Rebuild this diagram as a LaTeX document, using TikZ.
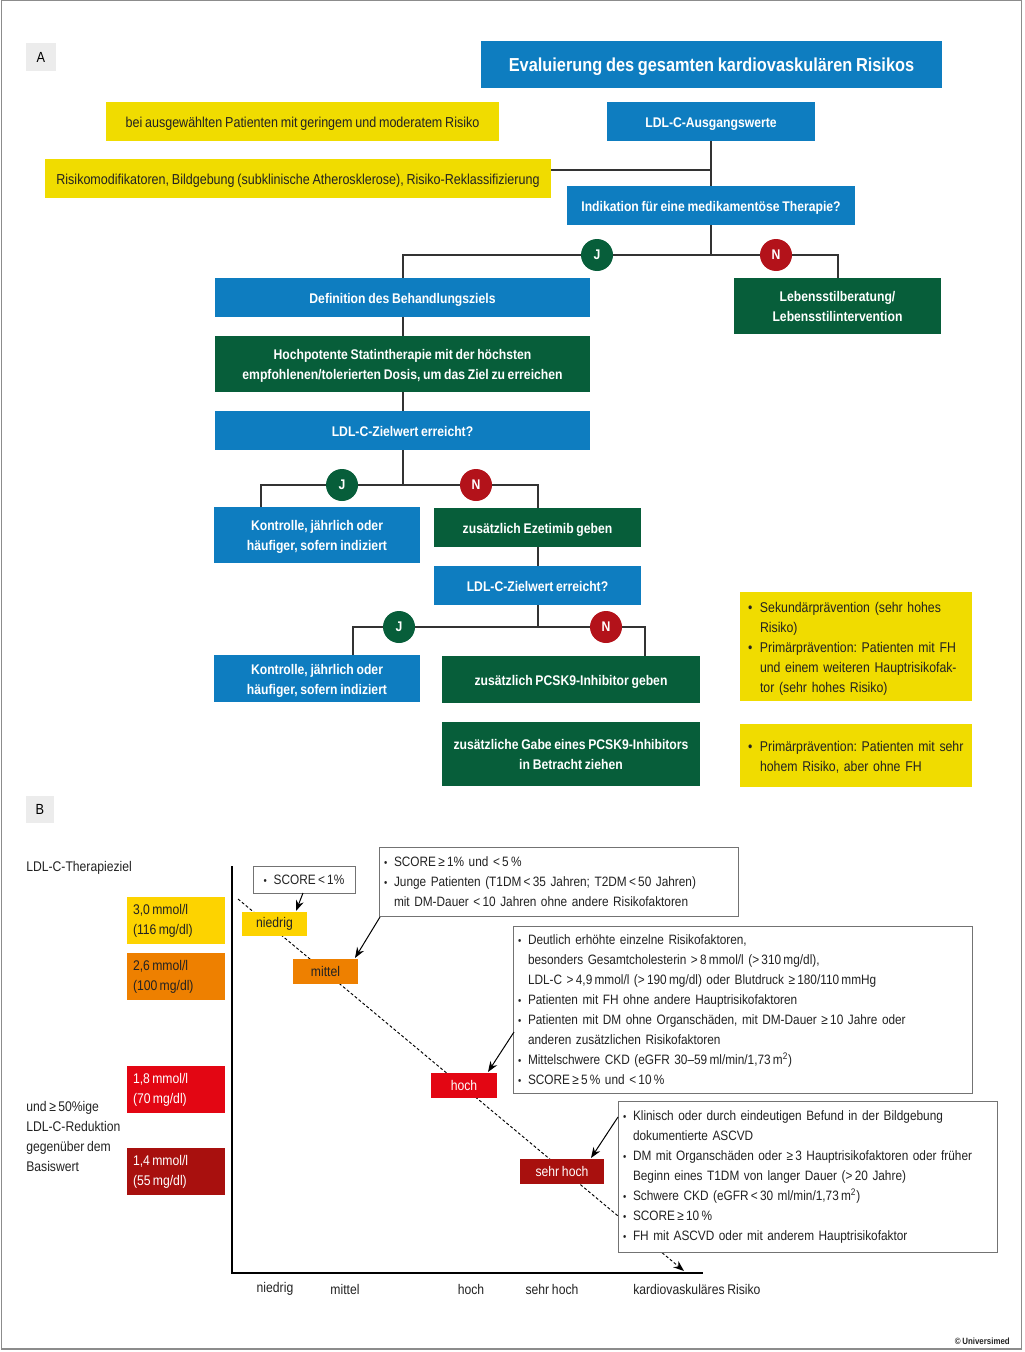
\documentclass[tikz,border=0pt]{standalone}
\usepackage{fontspec}
\setmainfont{Liberation Sans}[FakeStretch=0.87,WordSpace=0.8]
\usetikzlibrary{arrows.meta,calc}
\definecolor{cblue}{HTML}{0E7DC0}
\definecolor{cgreen}{HTML}{075E3A}
\definecolor{cred}{HTML}{B3121A}
\definecolor{cyel}{HTML}{F0DC00}
\definecolor{byel}{HTML}{FDD300}
\definecolor{borange}{HTML}{EE8000}
\definecolor{bred}{HTML}{E30613}
\definecolor{bdred}{HTML}{A8100E}
\definecolor{lgray}{HTML}{ECECEC}
\definecolor{txt}{HTML}{222222}
\newcommand{\fbx}[7]{\node[#2, minimum width={(#5-#3)*0.75pt}, minimum height={(#6-#4)*0.75pt}] (#1) at ({(#3+#5)/2},{(#4+#6)/2}) {#7};}
\newcommand{\lbx}[8]{\pgfmathsetmacro\mytw{(#5-#3-2*#7)*0.75}\node[#2, align=left, inner xsep=0pt, text width=\mytw pt, minimum width={(#5-#3)*0.75pt}, minimum height={(#6-#4)*0.75pt}] (#1) at ({(#3+#5)/2},{(#4+#6)/2}) {#8};}
\newcommand{\ybul}{\makebox[9pt][l]{•}}
\newcommand{\yind}{\hspace*{9pt}}
\newcommand{\bbul}{\makebox[7.5pt][l]{\fontsize{8}{8}\selectfont•}}
\newcommand{\bind}{\hspace*{7.5pt}}
\newcommand{\topstr}{\rule{0pt}{10.6pt}}
\newcommand{\botstr}{\rule[-2.2pt]{0pt}{0pt}}
\frenchspacing
\hfuzz=100pt
\begin{document}
\frenchspacing
\begin{tikzpicture}[x=0.75pt,y=-0.75pt,
  base/.style={inner sep=0pt, align=center},
  fl/.style={base, font=\fontsize{10.5}{15}\selectfont\bfseries, text=white},
  blu/.style={fl, fill=cblue},
  grn/.style={fl, fill=cgreen},
  yel/.style={base, fill=cyel, font=\fontsize{10.8}{15}\selectfont, text=txt},
  ylist/.style={yel, font=\fontsize{10.6}{15}\selectfont},
  conn/.style={line width=1.5pt, draw=black!80},
  circJ/.style={circle, fill=cgreen, minimum size=24pt, inner sep=0pt, text=white, font=\fontsize{10.5}{12}\selectfont\bfseries},
  circN/.style={circJ, fill=cred},
  lvl/.style={base, font=\fontsize{10.5}{15}\selectfont},
  call/.style={base, fill=white, draw=black!55, line width=0.75pt, font=\fontsize{10.2}{15}\selectfont, text=txt},
  carr/.style={-{Stealth[length=8pt,width=6pt]}, line width=0.75pt},
  dashln/.style={dash pattern=on 2.2pt off 1.6pt, line width=0.7pt, -{Stealth[length=8pt,width=6pt]}},
  lbl/.style={font=\fontsize{10.5}{15}\selectfont, inner sep=0pt, text=txt},
  tag/.style={base, fill=lgray, font=\fontsize{11}{12}\selectfont, text=black}
]
\useasboundingbox (0,0) rectangle (1024,1352);
\draw[black!45, line width=1.2pt] (1.5,0.5) rectangle (1021.5,1349);

% ===== Part A =====
\fbx{tagA}{tag}{26}{43}{56}{71}{A}
\fbx{title}{blu, font=\fontsize{14.1}{16}\selectfont\bfseries}{481}{41}{942}{88}{\rule{0pt}{13pt}Evaluierung des gesamten kardiovaskulären Risikos\rule[-3pt]{0pt}{0pt}}
\fbx{ldl}{blu}{607}{102}{815}{141}{\topstr LDL-C-Ausgangswerte\botstr}
\fbx{sel}{yel}{106}{102}{499}{141}{\topstr bei ausgewählten Patienten mit geringem und moderatem Risiko\botstr}
\fbx{risk}{yel}{45}{159}{551}{198}{\topstr Risikomodifikatoren, Bildgebung (subklinische Atherosklerose), Risiko-Reklassifizierung\botstr}
\fbx{ind}{blu}{567}{186}{855}{225}{\topstr Indikation für eine medikamentöse Therapie?\botstr}
\fbx{def}{blu}{215}{278}{590}{317}{\topstr Definition des Behandlungsziels\botstr}
\fbx{leb}{grn}{734}{278}{941}{334}{\topstr Lebensstilberatung/\\Lebensstilintervention\botstr}
\fbx{statin}{grn}{215}{336}{590}{392}{\topstr Hochpotente Statintherapie mit der höchsten\\empfohlenen/tolerierten Dosis, um das Ziel zu erreichen\botstr}
\fbx{ziel1}{blu}{215}{411}{590}{450}{\topstr LDL-C-Zielwert erreicht?\botstr}
\fbx{kon1}{blu}{214}{507}{420}{563}{\topstr Kontrolle, jährlich oder\\häufiger, sofern indiziert\botstr}
\fbx{eze}{grn}{434}{508}{641}{547}{\topstr zusätzlich Ezetimib geben\botstr}
\fbx{ziel2}{blu}{434}{566}{641}{605}{\topstr LDL-C-Zielwert erreicht?\botstr}
\fbx{kon2}{blu}{214}{655}{420}{702}{\topstr Kontrolle, jährlich oder\\häufiger, sofern indiziert\botstr}
\fbx{pcsk}{grn}{442}{656}{700}{703}{\topstr zusätzlich PCSK9-Inhibitor geben\botstr}
\fbx{gabe}{grn}{442}{722}{700}{786}{\topstr zusätzliche Gabe eines PCSK9-Inhibitors\\in Betracht ziehen\botstr}
\lbx{yl1}{ylist}{740}{592}{972}{701}{8}{\mbox{\topstr\ybul Sekundärprävention (sehr hohes}\\\yind Risiko)\\\mbox{\ybul Primärprävention: Patienten mit FH}\\\mbox{\yind und einem weiteren Hauptrisikofak-}\\\mbox{\yind tor (sehr hohes Risiko)\botstr}}
\lbx{yl2}{ylist}{740}{724}{972}{787}{8}{\mbox{\topstr\ybul Primärprävention: Patienten mit sehr}\\\mbox{\yind hohem Risiko, aber ohne FH\botstr}}

% connectors
\draw[conn] (ldl.south) -- (ind.north);
\coordinate (jA) at (711,170);
\draw[conn] (jA -| risk.east) -- (jA);
\coordinate (b1) at (711,255);
\draw[conn] (ind.south) -- (b1);
\draw[conn] (def.north) -- (def.north |- b1) -- (leb.north |- b1) -- (leb.north);
\draw[conn] (def.south) -- (statin.north);
\draw[conn] (statin.south) -- (ziel1.north);
\coordinate (b2) at (402.5,485);
\draw[conn] (ziel1.south) -- (b2);
\coordinate (k1t) at (261,507);
\draw[conn] (k1t) -- (k1t |- b2) -- (eze.north |- b2) -- (eze.north);
\draw[conn] (eze.south) -- (ziel2.north);
\coordinate (b3) at (537.5,627);
\draw[conn] (ziel2.south) -- (b3);
\coordinate (k2t) at (353,655);
\coordinate (p9t) at (645,656);
\draw[conn] (k2t) -- (k2t |- b3) -- (p9t |- b3) -- (p9t);
\node[circJ] (J1) at (597,255) {J};
\node[circN] (N1) at (776,255) {N};
\node[circJ] (J2) at (342,485) {J};
\node[circN] (N2) at (476,485) {N};
\node[circJ] (J3) at (399,627) {J};
\node[circN] (N3) at (606,627) {N};

% ===== Part B =====
\fbx{tagB}{tag}{26}{796}{54}{823}{B}
\node[lbl, anchor=west] (ther) at (26,868) {LDL-C-Therapieziel};
\node[lbl, anchor=west, align=left] (red) at (26,1136) {und ≥\,50\%ige\\LDL-C-Reduktion\\gegenüber dem\\Basiswert};
\lbx{v1}{lvl, fill=byel, text=txt}{127}{897}{225}{944}{6}{3,0\,mmol/l\\(116\,mg/dl)}
\lbx{v2}{lvl, fill=borange, text=txt}{127}{953}{225}{1000}{6}{2,6\,mmol/l\\(100\,mg/dl)}
\lbx{v3}{lvl, fill=bred, text=white}{127}{1066}{225}{1113}{6}{1,8\,mmol/l\\(70\,mg/dl)}
\lbx{v4}{lvl, fill=bdred, text=white}{127}{1148}{225}{1195}{6}{1,4\,mmol/l\\(55\,mg/dl)}

% axes
\coordinate (ax0) at (232,866);
\coordinate (axO) at (232,1273);
\coordinate (ax1) at (703,1273);
\draw[line width=1.5pt] (ax0) -- (axO) -- (ax1);

% dashed trend
\coordinate (ds) at (238,899);
\coordinate (de) at (684,1271);
\draw[dashln] (ds) -- (de);

% level boxes
\fbx{lniedrig}{lvl, fill=byel, text=txt}{242}{912}{307}{936}{niedrig}
\fbx{lmittel}{lvl, fill=borange, text=txt}{293}{959}{358}{984}{mittel}
\fbx{lhoch}{lvl, fill=bred, text=white}{431}{1073}{497}{1098}{hoch}
\fbx{lsehr}{lvl, fill=bdred, text=white}{520}{1159}{604}{1184}{sehr hoch}

% callouts
\fbx{c1}{call}{253}{866}{355}{893}{\bbul SCORE\,<\,1\%}
\lbx{c2}{call}{379}{847}{738}{916}{5}{\bbul SCORE\,≥\,1\% und <\,5\,\%\\\bbul Junge Patienten (T1DM\,<\,35 Jahren; T2DM\,<\,50 Jahren)\\\bind mit DM-Dauer <\,10 Jahren ohne andere Risikofaktoren}
\lbx{c3}{call}{513}{926}{972}{1093}{5}{\bbul Deutlich erhöhte einzelne Risikofaktoren,\\\bind besonders Gesamtcholesterin >\,8\,mmol/l (>\,310\,mg/dl),\\\bind LDL-C >\,4,9\,mmol/l (>\,190\,mg/dl) oder Blutdruck ≥\,180/110\,mmHg\\\bbul Patienten mit FH ohne andere Hauptrisikofaktoren\\\bbul Patienten mit DM ohne Organschäden, mit DM-Dauer ≥\,10 Jahre oder\\\bind anderen zusätzlichen Risikofaktoren\\\bbul Mittelschwere CKD (eGFR 30–59\,ml/min/1,73\,m\textsuperscript{2})\\\bbul SCORE\,≥\,5\,\% und <\,10\,\%}
\lbx{c4}{call}{618}{1101}{997}{1252}{5}{\bbul Klinisch oder durch eindeutigen Befund in der Bildgebung\\\bind dokumentierte ASCVD\\\bbul DM mit Organschäden oder ≥\,3 Hauptrisikofaktoren oder früher\\\bind Beginn eines T1DM von langer Dauer (>\,20 Jahre)\\\bbul Schwere CKD (eGFR\,<\,30 ml/min/1,73\,m\textsuperscript{2})\\\bbul SCORE\,≥\,10\,\%\\\bbul FH mit ASCVD oder mit anderem Hauptrisikofaktor}

% callout arrows
\coordinate (a1s) at (303,893); \coordinate (a1e) at (296,911);
\coordinate (a2s) at (380,917); \coordinate (a2e) at (355,958);
\coordinate (a3s) at (514,1032); \coordinate (a3e) at (488,1072);
\coordinate (a4s) at (618,1117); \coordinate (a4e) at (591,1158);
\draw[carr] (a1s) -- (a1e);
\draw[carr] (a2s) -- (a2e);
\draw[carr] (a3s) -- (a3e);
\draw[carr] (a4s) -- (a4e);

% axis labels
\node[lbl] (xn) at (275,1289) {niedrig};
\node[lbl] (xm) at (345,1289) {mittel};
\node[lbl] (xh) at (471,1289) {hoch};
\node[lbl] (xs) at (552,1289) {sehr hoch};
\node[lbl, anchor=west] (xk) at (633,1289) {kardiovaskuläres Risiko};

\node[font=\fontsize{6.8}{8}\selectfont\bfseries, inner sep=0pt, anchor=east, text=txt] (copy) at (1010,1341) {© Universimed};
\end{tikzpicture}
\end{document}
